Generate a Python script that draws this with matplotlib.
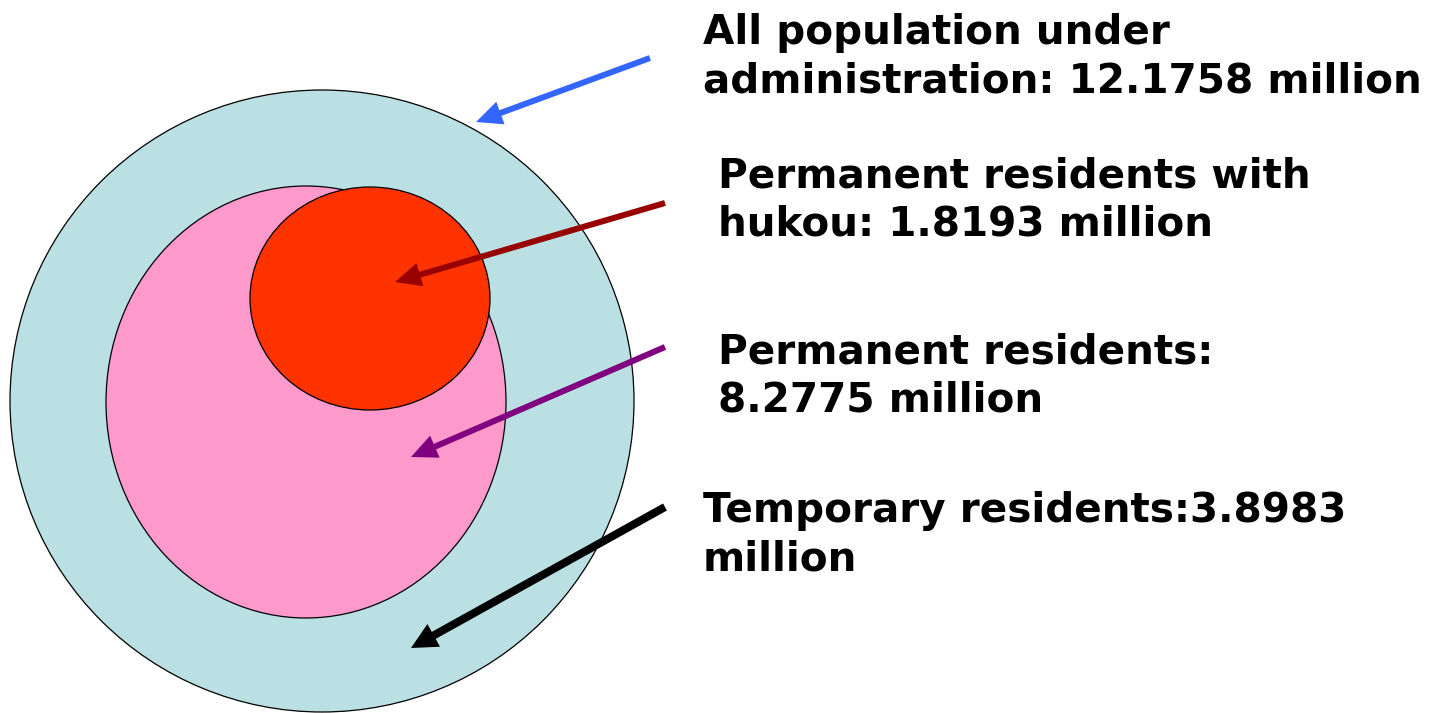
import matplotlib
matplotlib.use("Agg")
import matplotlib.pyplot as plt
from matplotlib.patches import Ellipse

plt.rcParams['font.family'] = ['DejaVu Sans']

# population groups (million)
groupes = ["All population under administration", "Permanent residents with hukou",
           "Permanent residents", "Temporary residents"]
valeurs = [12.1758, 1.8193, 8.2775, 3.8983]
etiquettes = [
    "All population under\nadministration: 12.1758 million",
    "Permanent residents with\nhukou: 1.8193 million",
    "Permanent residents:\n8.2775 million",
    "Temporary residents:3.8983\nmillion",
]

# layout (pixels, y down)
couleurs_fond = ["#bae0e3", "#fe99cc", "#ff3300"]
ellipses = [((322, 401), 624, 622), ((306, 402), 400, 432), ((370, 298.5), 240, 223)]
pos_texte = [(703, 13), (718, 156), (718, 332), (703, 491)]
fleches = [((650, 58), (476, 122), "#3366ff", 6),
           ((665, 203), (395, 282), "#990000", 6),
           ((665, 347), (411, 457), "#800080", 6),
           ((665, 507), (411, 648), "black", 8)]

fig = plt.figure(figsize=(14.3, 7.13), dpi=100)
ax = fig.add_axes([0, 0, 1, 1])
ax.set_xlim(0, 1430)
ax.set_ylim(713, 0)
ax.axis('off')

for (c, w, h), col in zip(ellipses, couleurs_fond):
    ax.add_patch(Ellipse(c, w, h, facecolor=col, edgecolor='black', lw=0.9))

for (x, y), t in zip(pos_texte, etiquettes):
    ax.text(x, y, t, fontsize=29.2, fontweight='bold', va='top', ha='left',
            linespacing=1.28, color='black')

for (x0, y0), (x1, y1), col, larg in fleches:
    ax.arrow(x0, y0, x1 - x0, y1 - y0, width=larg, head_width=larg + 18,
             head_length=26, length_includes_head=True, color=col, lw=0)

fig.savefig("out.png", dpi=100)
